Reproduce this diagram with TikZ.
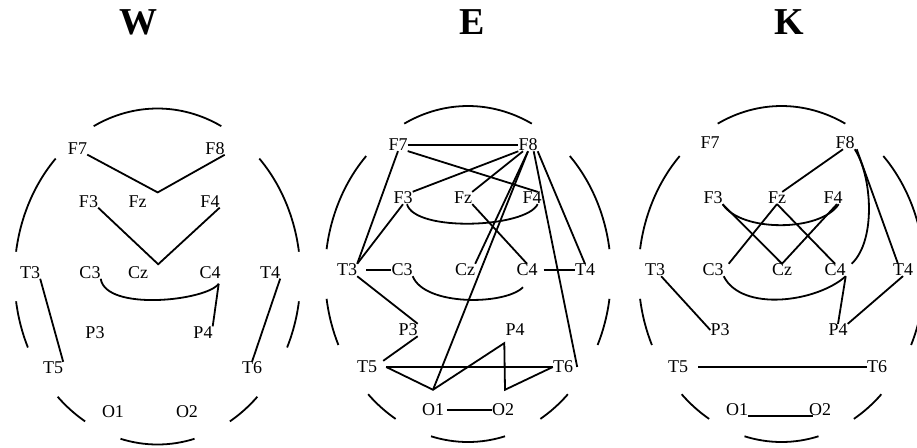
\documentclass[tikz,border=0pt]{standalone}
\usepackage{fontspec}
\setmainfont{Liberation Serif}
\usepackage{tikz}
\usetikzlibrary{arrows.meta, positioning, calc}
\newcommand{\elecfont}{\fontsize{18}{18}\selectfont}
\newcommand{\capfont}{\fontsize{38}{38}\selectfont\bfseries}
\tikzset{
  elec/.style={font=\elecfont, inner sep=0pt},
  link/.style={line width=1.8pt},
  rim/.style={line width=1.8pt},
  headtitle/.style={font=\capfont, inner sep=0pt}
}
% dashed outline of one head, centred at (#1,#2)
\newcommand{\headrim}[2]{
  \foreach \a/\b in {63.5/116.5, 8.5/44.6, -25/-8.5, -59.6/-45.7, -105/-75,
      225.7/239.6, 188.5/205, 135.4/171.5}{
    \draw[rim] (#1,#2) ++(\a:143 and 168) arc[start angle=\a, end angle=\b, x radius=143, y radius=168];
  }
}

\begin{document}
\begin{tikzpicture}[x=1pt, y=1pt, >=Stealth]
  \useasboundingbox (0,0) rectangle (917,-447);

  \node[headtitle] (tW) at (138,-22.5) {W};
  \node[headtitle] (tE) at (472,-22.5) {E};
  \node[headtitle] (tK) at (789,-22.5) {K};

  \headrim{157.5}{-276.5}
  \headrim{468}{-274}
  \headrim{781.5}{-274}

  \foreach \n/\x/\y in {F7/77.5/148.5, F8/215/148.5, F3/88.5/201.5, Fz/137.5/201.5, F4/210/201.5,
      T3/30/272.5, C3/90/272.5, Cz/138/272.5, C4/210/272.5, T4/270/272.5,
      P3/95/332.5, P4/203/332.5, T5/53/368, T6/252/368, O1/113/412, O2/187/412}
    \node[elec] (w\n) at (\x,-\y) {\n};
  \foreach \n/\x/\y in {F7/398/145, F8/528/145, F3/403/198, Fz/463/198, F4/532/198,
      T3/347/270, C3/402/270, Cz/465/270, C4/527/270, T4/585/270,
      P3/408/330, P4/515/330, T5/367/367, T6/563/367, O1/433/410, O2/503/410}
    \node[elec] (e\n) at (\x,-\y) {\n};
  \foreach \n/\x/\y in {F7/710/143, F8/845/143, F3/713/198, Fz/777/198, F4/833/198,
      T3/655/270, C3/713/270, Cz/782/270, C4/835/270, T4/903/270,
      P3/720/330, P4/838/330, T5/678/367, T6/877/367, O1/737/410, O2/820/410}
    \node[elec] (k\n) at (\x,-\y) {\n};

  % W
  \draw[link] (wF7.south east) -- ([shift={(11,3)}]wFz.north east) -- (wF8.south east);
  \draw[link] (wF3.south east) -- ([shift={(10,2)}]wCz.north east) -- (wF4.south east);
  \draw[link] (wC3.south east) .. controls +(5,-33) and +(-12,-17) .. ([shift={(-2,-5)}]wC4.south east);
  \draw[link] ([shift={(-2,-5)}]wC4.south east) -- (wP4.north east);
  \draw[link] (wT3.south east) -- (wT5.north east);
  \draw[link] (wT4.south east) -- (wT6.north);

  % E
  \draw[link] (eF7.east) -- (eF8.west);
  \draw[link] (eF7.south east) -- ([xshift=-4]eF4.north east);
  \draw[link] (eF7.south) -- (eT3.north east);
  \draw[link] (eF8.south west) -- (eF3.north east);
  \draw[link] ([xshift=-5]eF8.south) -- (eFz.north east);
  \draw[link] (eF8.south) -- (eCz.north east);
  \draw[link] (eF8.south) -- ([yshift=14]eO1.north);
  \draw[link] ([xshift=-4]eF8.south east) -- ([xshift=4]eT6.east);
  \draw[link] (eF8.south east) -- (eT4.north);
  \draw[link] (eF3.south) -- (eT3.north east);
  \draw[link] ([xshift=4]eF3.south) .. controls +(8,-28) and +(-12,-24) .. ([xshift=-4]eF4.south east);
  \draw[link] (eFz.south east) -- (eC4.north);
  \draw[link] ([xshift=9]eT3.east) -- (eC3.west);
  \draw[link] ([xshift=6]eC4.east) -- (eT4.west);
  \draw[link] (eC3.south east) .. controls +(12,-30) and +(-18,-18) .. ([shift={(-4,-11)}]eC4.south);
  \draw[link] (eT3.south east) -- (eP3.north east);
  \draw[link] (eP3.south east) -- ([xshift=6]eT5.north east);
  \draw[link] ([xshift=9]eT5.east) -- (eT6.west);
  \draw[link] ([xshift=9]eT5.east) -- ([yshift=14]eO1.north) -- ([shift={(-1,-7)}]eP4.south west)
    -- ([shift={(2,14)}]eO2.north) -- (eT6.west);
  \draw[link] ([xshift=3]eO1.east) -- (eO2.west);

  % K
  \draw[link] ([xshift=-2]kF8.south) -- ([xshift=-4]kFz.north east);
  \draw[link] (kF8.south east) .. controls +(17,-26) and +(25,24) .. ([xshift=6]kC4.north east);
  \draw[link] ([xshift=2]kF8.south east) -- ([xshift=-5]kT4.north);
  \draw[link] (kF3.south east) .. controls +(18,-28) and +(-18,-28) .. ([xshift=-4]kF4.south east);
  \draw[link] (kF3.south east) -- (kCz.north);
  \draw[link] (kFz.south) -- ([xshift=5]kC3.north east);
  \draw[link] (kFz.south) -- (kC4.north);
  \draw[link] ([xshift=4]kF4.south) -- (kCz.north);
  \draw[link] (kC3.south east) .. controls +(18,-36) and +(-29,-26) .. (kC4.south east);
  \draw[link] (kC4.south east) -- (kP4.north);
  \draw[link] (kT4.south) -- (kP4.north east);
  \draw[link] ([xshift=-4]kT3.south east) -- (kP3.west);
  \draw[link] ([xshift=10]kT5.east) -- (kT6.west);
  \draw[link] (kO1.south east) -- ([xshift=4]kO2.south west);
\end{tikzpicture}
\end{document}
